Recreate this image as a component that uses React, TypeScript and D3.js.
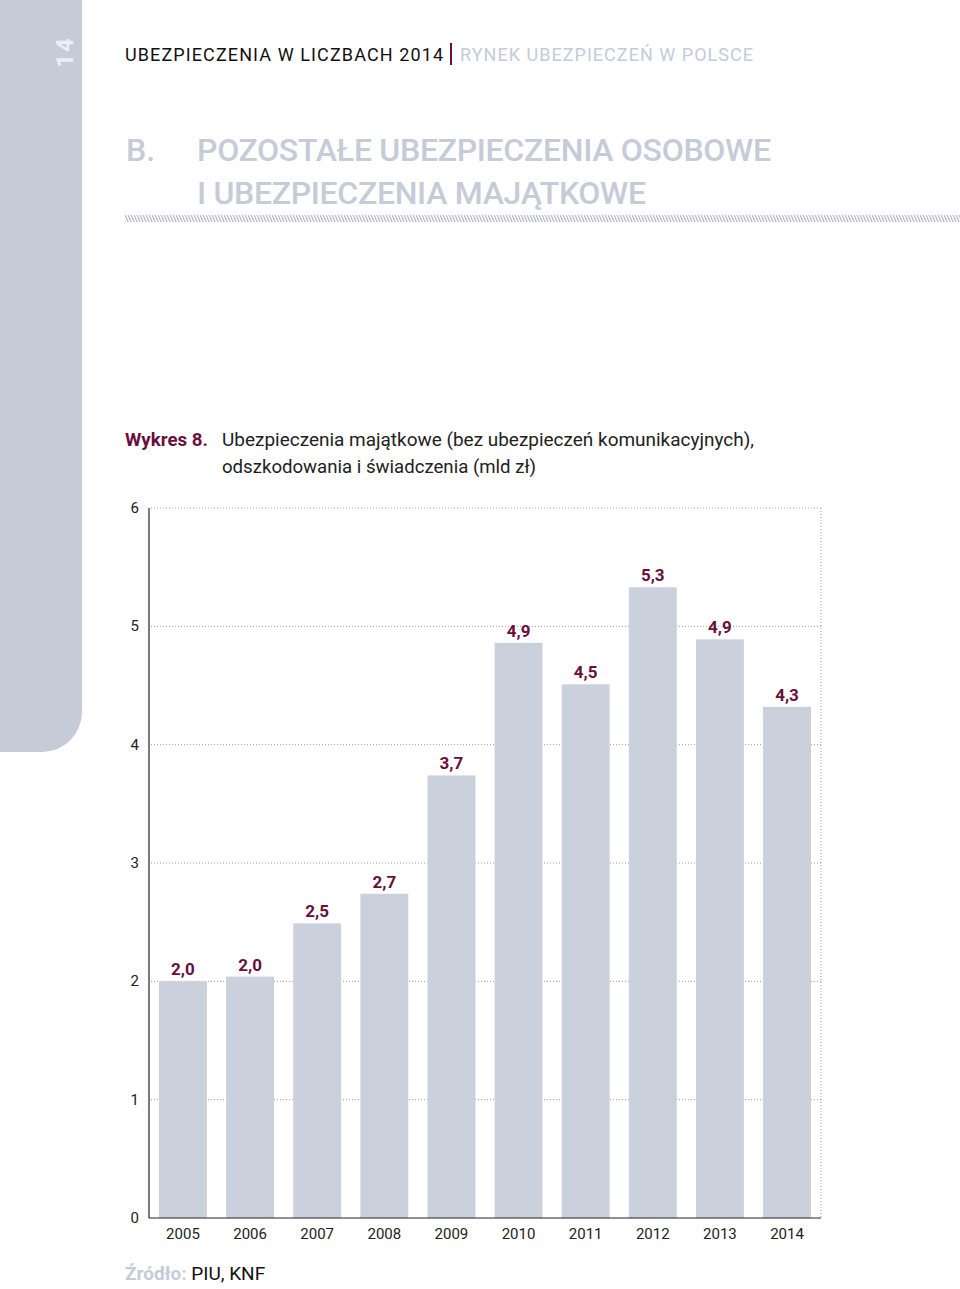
import React from "react";
import * as d3 from "d3";

const years = ["2005", "2006", "2007", "2008", "2009", "2010", "2011", "2012", "2013", "2014"];
const values = [2.0, 2.04, 2.49, 2.74, 3.74, 4.86, 4.51, 5.33, 4.89, 4.32];
const yTicks = [0, 1, 2, 3, 4, 5, 6];

const W = 960;
const H = 1289;
const plot = { left: 149, right: 821, top: 508, bottom: 1218 };

const BAR = "#cbd1dc";
const MAROON = "#6a0f3c";
const LIGHT = "#c5cbd7";
const FONT = "Roboto, 'DejaVu Sans', sans-serif";

export default function App() {
  const x = d3
    .scaleBand<string>()
    .domain(years)
    .range([plot.left, plot.right])
    .paddingInner(0.286)
    .paddingOuter(0.149);
  const y = d3.scaleLinear().domain([0, 6]).range([plot.bottom, plot.top]);
  const fmt = (v: number) => v.toFixed(1).replace(".", ",");

  return (
    <svg width={W} height={H} style={{ position: "absolute", left: 0, top: 0 }} fontFamily={FONT}>
      <defs>
        <pattern id="hatch" width="3" height="7" patternUnits="userSpaceOnUse">
          <line x1="0" y1="0" x2="3" y2="7" stroke="#aeb5c3" strokeWidth="1.1" />
          <line x1="-3" y1="0" x2="0" y2="7" stroke="#aeb5c3" strokeWidth="1.1" />
          <line x1="3" y1="0" x2="6" y2="7" stroke="#aeb5c3" strokeWidth="1.1" />
        </pattern>
      </defs>
      <rect x={0} y={0} width={W} height={H} fill="#fff" />
      {/* sidebar */}
      <path d="M0,0 H82 V712 A40,40 0 0 1 42,752 H0 Z" fill={LIGHT} />
      <text
        transform="translate(73,52) rotate(-90)"
        textAnchor="middle"
        fontSize={24}
        fontWeight={700}
        fill="#eceef3"
        letterSpacing={2}
      >
        14
      </text>
      {/* header */}
      <text x={125} y={61} fontSize={18} fill="#111" textLength={318} lengthAdjust="spacing">
        UBEZPIECZENIA W LICZBACH 2014
      </text>
      <rect x={450} y={43} width={2} height={22} fill={MAROON} />
      <text x={460} y={61} fontSize={18} fill={LIGHT} textLength={293} lengthAdjust="spacing">
        RYNEK UBEZPIECZEŃ W POLSCE
      </text>
      {/* section title */}
      <text x={126} y={161} fontSize={32} fontWeight={500} fill={LIGHT}>
        B.
      </text>
      <text x={197} y={161} fontSize={32} fontWeight={500} fill={LIGHT} textLength={574} lengthAdjust="spacing">
        POZOSTAŁE UBEZPIECZENIA OSOBOWE
      </text>
      <text x={197} y={204} fontSize={32} fontWeight={500} fill={LIGHT} textLength={449} lengthAdjust="spacing">
        I UBEZPIECZENIA MAJĄTKOWE
      </text>
      <rect x={125} y={215} width={835} height={7} fill="url(#hatch)" />
      {/* chart title */}
      <text x={125} y={446} fontSize={18} fontWeight={700} fill={MAROON} textLength={83} lengthAdjust="spacingAndGlyphs">
        Wykres 8.
      </text>
      <text x={222} y={446} fontSize={18} fill="#222" textLength={532} lengthAdjust="spacingAndGlyphs">
        Ubezpieczenia majątkowe (bez ubezpieczeń komunikacyjnych),
      </text>
      <text x={222} y={473} fontSize={18} fill="#222" textLength={314} lengthAdjust="spacingAndGlyphs">
        odszkodowania i świadczenia (mld zł)
      </text>
      {/* grid */}
      {yTicks.filter((t) => t > 0).map((t) => (
        <line
          key={"g" + t}
          x1={plot.left + 2}
          x2={plot.right}
          y1={y(t)}
          y2={y(t)}
          stroke="#9a9a9a"
          strokeWidth={1}
          strokeDasharray="1,2"
        />
      ))}
      <line x1={plot.right} x2={plot.right} y1={plot.top} y2={plot.bottom} stroke="#9a9a9a" strokeDasharray="1,2" />
      {/* bars */}
      {years.map((yr, i) => (
        <rect key={yr} x={x(yr)} y={y(values[i])} width={x.bandwidth()} height={y(0) - y(values[i])} fill={BAR} />
      ))}
      {years.map((yr, i) => (
        <text
          key={"l" + yr}
          x={(x(yr) as number) + x.bandwidth() / 2}
          y={y(values[i]) - 6}
          textAnchor="middle"
          fontSize={17}
          fontWeight={700}
          fill={MAROON}
        >
          {fmt(values[i])}
        </text>
      ))}
      {/* axes */}
      <line x1={plot.left} x2={plot.left} y1={plot.top} y2={plot.bottom} stroke="#222" strokeWidth={1.2} />
      <line x1={plot.left} x2={plot.right} y1={plot.bottom} y2={plot.bottom} stroke="#222" strokeWidth={1.2} />
      {yTicks.map((t) => (
        <text key={"t" + t} x={139} y={y(t) + 5} textAnchor="end" fontSize={15} fill="#222">
          {t}
        </text>
      ))}
      {years.map((yr) => (
        <text
          key={"x" + yr}
          x={(x(yr) as number) + x.bandwidth() / 2}
          y={1239}
          textAnchor="middle"
          fontSize={15}
          fill="#222"
        >
          {yr}
        </text>
      ))}
      {/* source */}
      <text x={125} y={1280} fontSize={19}>
        <tspan fill={LIGHT} fontWeight={700}>Źródło: </tspan>
        <tspan fill="#111">PIU, KNF</tspan>
      </text>
    </svg>
  );
}
